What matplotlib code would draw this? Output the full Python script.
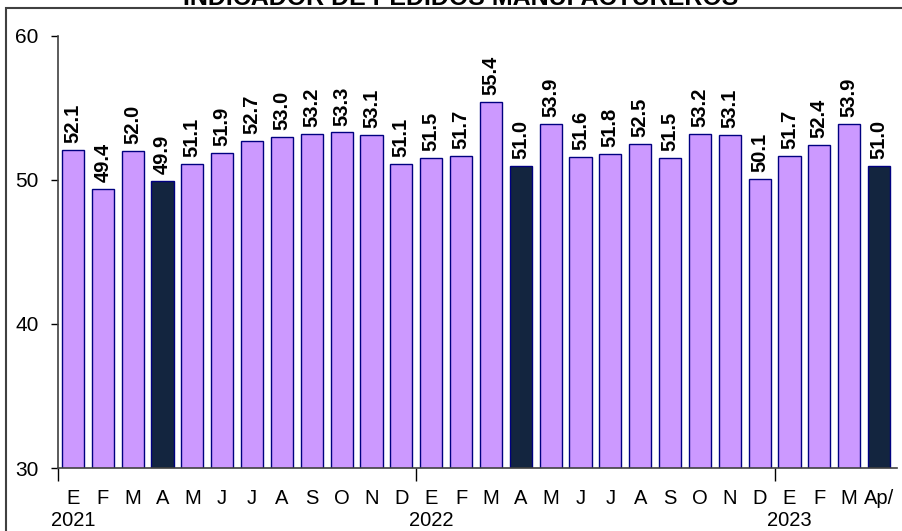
import matplotlib.pyplot as plt
from matplotlib.patches import Rectangle
from matplotlib.transforms import blended_transform_factory

# ── Data ──────────────────────────────────────────────────────────────────────
months = ["E", "F", "M", "A", "M", "J", "J", "A", "S", "O", "N", "D",
          "E", "F", "M", "A", "M", "J", "J", "A", "S", "O", "N", "D",
          "E", "F", "M", "Ap/"]
values = [52.1, 49.4, 52.0, 49.9, 51.1, 51.9, 52.7, 53.0, 53.2, 53.3, 53.1, 51.1,
          51.5, 51.7, 55.4, 51.0, 53.9, 51.6, 51.8, 52.5, 51.5, 53.2, 53.1, 50.1,
          51.7, 52.4, 53.9, 51.0]
years = ["2021", "2022", "2023"]
year_start = [0, 12, 24]          # index of first month of each year
highlight = [3, 15, 27]           # April bars, dark

LAVENDER = "#CC99FF"
DARK     = "#13253F"
EDGE     = "#000080"
FS       = 14.5

plt.rcParams['font.family'] = ['Liberation Sans', 'DejaVu Sans']

fig = plt.figure(figsize=(9.02, 5.31), dpi=100)
ax = fig.add_axes([58 / 902, 63 / 531, 839 / 902, 432 / 531])

x = list(range(len(values)))
colors = [DARK if i in highlight else LAVENDER for i in x]
ax.bar(x, values, width=0.74, color=colors, edgecolor=EDGE, linewidth=1.0)

# value labels
for xi, v in zip(x, values):
    ax.annotate(f"{v:.1f}", (xi, v), xytext=(0, 5), textcoords="offset points",
                rotation=90, ha="center", va="bottom",
                fontsize=FS, fontweight="bold")

ax.set_ylim(30, 60)
ax.set_xlim(-0.5, 27.6)
ax.set_yticks([30, 40, 50, 60])
ax.tick_params(axis="y", direction="out", length=5, width=1, labelsize=15,
               pad=9)

# year boundary ticks
ax.set_xticks([s - 0.5 for s in year_start])
ax.tick_params(axis="x", which="major", direction="out", length=9, width=1,
               labelbottom=False)
# month labels
ax.set_xticks(x, minor=True)
ax.set_xticklabels(months, minor=True)
ax.tick_params(axis="x", which="minor", length=0, labelsize=FS, pad=15)

# year labels under first month of each year
trans = blended_transform_factory(ax.transData, ax.transAxes)
for s, yr in zip(year_start, years):
    ax.text(s, -0.122, yr, transform=trans, ha="center", va="center",
            fontsize=FS)

for side in ("top", "right"):
    ax.spines[side].set_visible(False)
for side in ("left", "bottom"):
    ax.spines[side].set_color("#404040")
    ax.spines[side].set_linewidth(1.2)

# outer frame (runs past the right and bottom edges)
fig.patches.append(Rectangle((6 / 902, -0.2), 1.2, 1.2 - 8 / 531,
                             transform=fig.transFigure, fill=False,
                             edgecolor="#404040", linewidth=1.5))

# title, mostly cut off above the frame (as in the source)
fig.text(461 / 902, 1 - 5 / 531, "INDICADOR DE PEDIDOS MANUFACTUREROS",
         ha="center", va="baseline", fontsize=18, fontweight="bold")

fig.savefig("out.png", dpi=100)
